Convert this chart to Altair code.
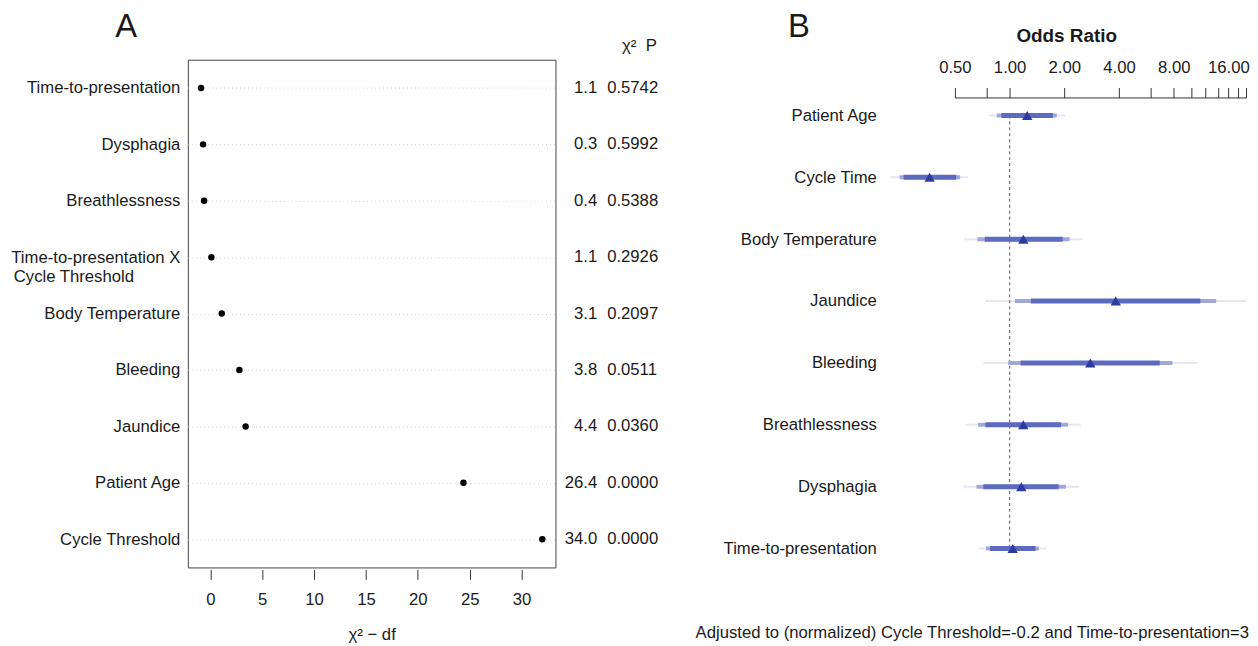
import json
import altair as alt
import pandas as pd

# ---------------- Panel A data ----------------
a_labels = ["Time-to-presentation", "Dysphagia", "Breathlessness",
            "Time-to-presentation X Cycle Threshold", "Body Temperature",
            "Bleeding", "Jaundice", "Patient Age", "Cycle Threshold"]
a_chi2 = [1.1, 0.3, 0.4, 1.1, 3.1, 3.8, 4.4, 26.4, 34.0]
a_p = [0.5742, 0.5992, 0.5388, 0.2926, 0.2097, 0.0511, 0.0360, 0.0000, 0.0000]
a_chi2_minus_df = [-0.9, -0.7, -0.6, 0.1, 1.1, 2.8, 3.4, 24.4, 32.0]
a_ticks = [0, 5, 10, 15, 20, 25, 30]

# ---------------- Panel B data ----------------
b_labels = ["Patient Age", "Cycle Time", "Body Temperature", "Jaundice",
            "Bleeding", "Breathlessness", "Dysphagia", "Time-to-presentation"]
b_or = [1.25, 0.363, 1.19, 3.84, 2.78, 1.19, 1.16, 1.04]
b_lo90 = [0.90, 0.261, 0.730, 1.31, 1.15, 0.736, 0.717, 0.780]
b_hi90 = [1.73, 0.508, 1.96, 11.2, 6.70, 1.92, 1.86, 1.39]
b_lo95 = [0.85, 0.248, 0.665, 1.07, 0.983, 0.671, 0.657, 0.742]
b_hi95 = [1.82, 0.534, 2.14, 13.7, 7.87, 2.10, 2.04, 1.45]
b_lo99 = [0.77, 0.221, 0.563, 0.733, 0.717, 0.574, 0.558, 0.674]
b_hi99 = [2.03, 0.591, 2.52, 20.0, 10.8, 2.46, 2.42, 1.59]
or_ticks = [0.5, 0.75, 1, 2, 4, 6, 8, 10, 12, 14, 16, 18, 20]
or_labeled = [0.5, 1, 2, 4, 8, 16]

footnote = "Adjusted to (normalized) Cycle Threshold=-0.2 and Time-to-presentation=3"

FONT = "Liberation Sans"
TXT = "#1a1a1a"
FS = 16.8

# ---------------- Panel A ----------------
dfa = pd.DataFrame({"label": a_labels, "chi2": a_chi2, "p": a_p,
                    "cd": a_chi2_minus_df})

NB = "\u00a0"
ZW = "\u200b"
ya_axis = alt.Axis(
    title=None, labelPadding=8, ticks=False, domain=False, grid=True,
    gridDash=[1, 3], gridColor="#cfcfcf", labelFontSize=FS, labelColor=TXT,
    labelLineHeight=20,
    labelExpr="datum.label == 'Time-to-presentation X Cycle Threshold' ? "
              "['Time-to-presentation X', 'Cycle Threshold" + NB * 10 + ZW +
              "'] : datum.label",
)
ya_scale = alt.Scale(type="point", padding=0.5, domain=a_labels)
ya = alt.Y("label:N", scale=ya_scale, axis=ya_axis)
ya2 = alt.Y("label:N")

xa = alt.X("cd:Q", scale=alt.Scale(domain=[-2.17, 33.27], nice=False, zero=False),
           axis=alt.Axis(values=a_ticks, title="χ² − df", tickSize=10, offset=2,
                         domain=False, grid=False, labelFontSize=FS,
                         labelColor=TXT, tickColor="#333", labelPadding=12,
                         titleFontSize=FS, titleFontWeight="normal",
                         titleColor=TXT, titlePadding=19, labelFlush=False))

pts = alt.Chart(dfa).mark_circle(size=42, color="black", opacity=1).encode(
    x=xa, y=ya)

chi_txt = alt.Chart(dfa).mark_text(align="right", baseline="middle", fontSize=FS,
                                   font=FONT, color=TXT).encode(
    y=ya2, x=alt.value(412), text=alt.Text("chi2:Q", format=".1f"))

p_txt = alt.Chart(dfa).mark_text(align="left", baseline="middle", fontSize=FS,
                                 font=FONT, color=TXT).encode(
    y=ya2, x=alt.value(422), text=alt.Text("p:Q", format=".4f"))

hdr = alt.Chart(pd.DataFrame({"t": ["χ²" + NB * 2 + "P"]})).mark_text(
    align="left", baseline="middle", fontSize=FS, font=FONT, color=TXT).encode(
    x=alt.value(437), y=alt.value(-14), text="t:N")

lab_a = alt.Chart(pd.DataFrame({"t": ["A"]})).mark_text(
    align="center", baseline="middle", fontSize=33, font=FONT, color=TXT,
    fontWeight=300).encode(x=alt.value(-62), y=alt.value(-33), text="t:N")

panel_a = alt.layer(pts, chi_txt, p_txt, hdr, lab_a).properties(
    width=370, height=511,
    view=alt.ViewBackground(stroke="#444", strokeWidth=1))

# ---------------- Panel B ----------------
def band(lo, hi):
    return pd.DataFrame({"label": b_labels, "lo": lo, "hi": hi})

yb_axis = alt.Axis(title=None, labelPadding=79, ticks=False, domain=False,
                   grid=False, labelFontSize=FS, labelColor=TXT)
yb_scale = alt.Scale(type="point", padding=0.9, domain=b_labels)
yb = alt.Y("label:N", scale=yb_scale, axis=yb_axis)
yb2 = alt.Y("label:N")

labexpr = ("indexof(" + json.dumps(or_labeled) +
           ", datum.value) >= 0 ? format(datum.value, '.2f') : ''")
xb_scale = alt.Scale(type="log", domain=[0.5, 20], nice=False)
xb = alt.X("lo:Q", scale=xb_scale,
           axis=alt.Axis(orient="top", offset=-38, values=or_ticks,
                         labelExpr=labexpr, tickSize=10, title="Odds Ratio",
                         titleFontWeight="bold", titleFontSize=19, titleX=112,
                         titleColor=TXT, labelPadding=11, titlePadding=14,
                         domainColor="#333", tickColor="#333", labelFontSize=FS,
                         labelColor=TXT, grid=False, labelOverlap=False,
                         labelFlush=False, labelBound=False))

r99 = alt.Chart(band(b_lo99, b_hi99)).mark_rule(
    strokeWidth=2, color="#E4E6F4").encode(x=xb, x2="hi:Q", y=yb)
r95 = alt.Chart(band(b_lo95, b_hi95)).mark_rule(
    strokeWidth=4, color="#A0A8DA").encode(
    x=alt.X("lo:Q"), x2="hi:Q", y=yb2)
r90 = alt.Chart(band(b_lo90, b_hi90)).mark_rule(
    strokeWidth=5, color="#5C6BC0").encode(
    x=alt.X("lo:Q"), x2="hi:Q", y=yb2)

ref = alt.Chart(pd.DataFrame({"lo": [1.0], "label": [b_labels[0]],
                              "bottom": [b_labels[-1]]})).mark_rule(
    color="#777", strokeDash=[3, 3], strokeWidth=1.3).encode(
    x=alt.X("lo:Q"), y=yb2, y2="bottom")

est = alt.Chart(pd.DataFrame({"label": b_labels, "lo": b_or})).mark_point(
    shape="triangle-up", filled=True, size=110, color="#2E3A9E",
    opacity=1).encode(x=alt.X("lo:Q"), y=yb2)

lab_b = alt.Chart(pd.DataFrame({"t": ["B"]})).mark_text(
    align="center", baseline="middle", fontSize=33, font=FONT, color=TXT,
    fontWeight=300).encode(x=alt.value(-157), y=alt.value(-33), text="t:N")

panel_b = alt.layer(r99, ref, r95, r90, est, lab_b).properties(
    width=293, height=548,
    view=alt.ViewBackground(stroke="transparent", strokeWidth=0),
    title=alt.TitleParams(text=footnote, orient="bottom", anchor="end",
                          frame="group", fontSize=FS, fontWeight="normal",
                          font=FONT, color=TXT, offset=21, dx=3))

chart = alt.hconcat(panel_a, panel_b, spacing=36).properties(
    padding={"left": 2, "top": 0, "right": 0, "bottom": 0}
).configure(
    font=FONT
).configure_axis(labelFont=FONT, titleFont=FONT)

chart.save("out.html", embed_options={"renderer": "svg", "actions": False})
